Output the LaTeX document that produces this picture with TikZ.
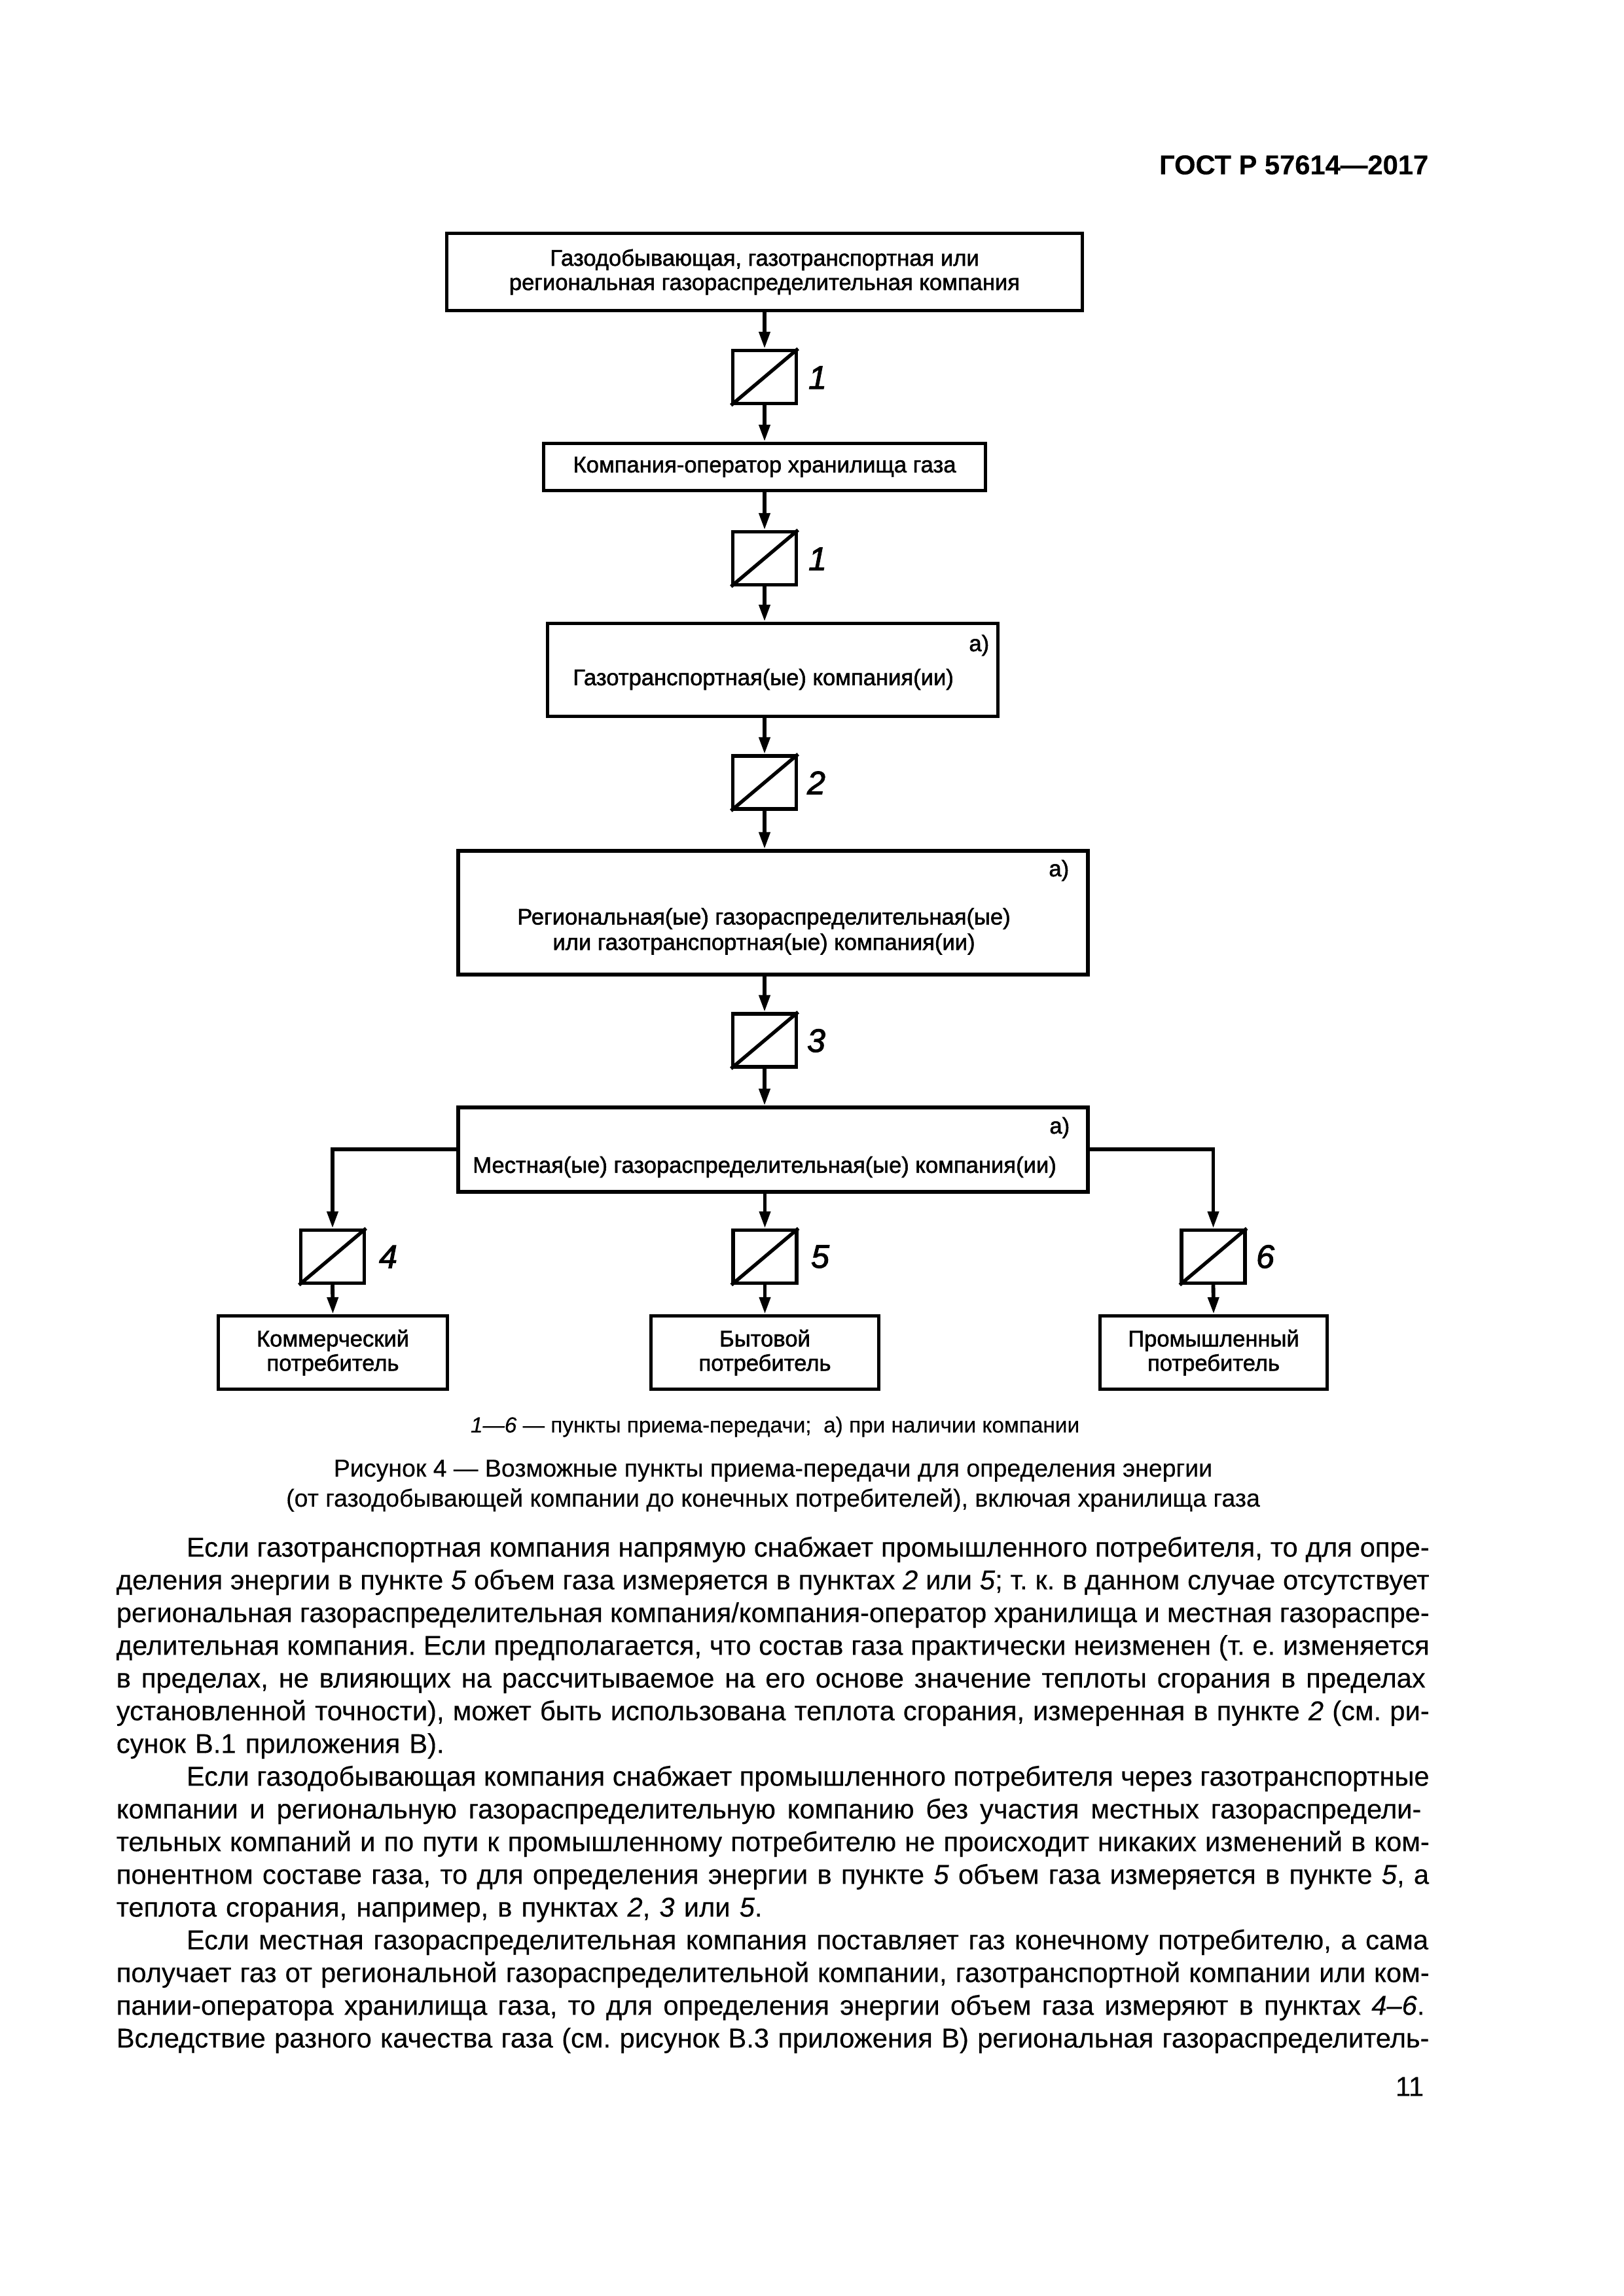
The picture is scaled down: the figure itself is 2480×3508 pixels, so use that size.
\documentclass[tikz,border=0pt]{standalone}
\usepackage{fontspec}
\setmainfont{Liberation Sans}[FakeBold=0.3,ItalicFeatures={FakeBold=0.3}]
\newfontfamily\diagfont{Liberation Sans}[FakeBold=1.6]
\newfontfamily\numfont{Liberation Sans}[ItalicFeatures={FakeBold=2.2}]
\usetikzlibrary{arrows.meta}
\newdimen\pxu \pxu=0.24pt
\newcommand\wordgap{\kern0pt\hskip .34em plus .6em minus .2em\kern0pt}
\begingroup\catcode`\ =\active\gdef\activatespaces{\catcode`\ =\active\let =\wordgap}\endgroup
\tikzset{
  x=0.24pt,y=-0.24pt,
  boxn/.style={draw=black,line width=1.3pt,rectangle,inner sep=0pt,align=center,font=\diagfont\fontsize{8.3}{8.9}\selectfont},
  meter/.style={draw=black,line width=1.3pt,rectangle,inner sep=0pt,minimum width=97*\pxu,minimum height=81*\pxu},
  conn/.style={line width=1.4pt,-{Triangle[length=6.2pt,width=3.9pt]}},
  diag/.style={line width=1.3pt},
  lbl/.style={inner sep=0pt,font=\diagfont\fontsize{8.3}{9.3}\selectfont,align=center},
  num/.style={inner sep=0pt,font=\numfont\itshape\fontsize{12}{12}\selectfont},
  note/.style={inner sep=0pt,align=center,font=\fontsize{8}{11}\selectfont},
  capt/.style={inner sep=0pt,align=center,font=\fontsize{9}{11}\selectfont},
}
\begin{document}
\begin{tikzpicture}
\useasboundingbox (0,0) rectangle (2480,3508);
\fill[white] (0,0) rectangle (2480,3508);
\node[inner sep=0pt,anchor=east,font=\bfseries\fontsize{10}{12}\selectfont] (head) at (2183,252) {ГОСТ Р 57614—2017};

\node[boxn,minimum width=971*\pxu,minimum height=118*\pxu] (b1) at (1168,415.5) {Газодобывающая, газотранспортная или\\региональная газораспределительная компания};
\node[meter] (m1) at (1168,576) {};
\node[num] (n1) at (1249,577) {1};
\node[boxn,minimum width=675*\pxu,minimum height=72*\pxu] (b2) at (1168,713.5) {Компания-оператор хранилища газа};
\node[meter] (m2) at (1168,853) {};
\node[num] (n2) at (1249,854) {1};
\node[boxn,minimum width=688*\pxu,minimum height=142*\pxu] (b3) at (1180.5,1023.5) {};
\node[lbl] (t3) at (1166,1038) {Газотранспортная(ые) компания(ии)};
\node[lbl,anchor=east] (a3) at (1512,986) {а)};
\node[meter] (m3) at (1168,1195.5) {};
\node[num] (n3) at (1247,1196) {2};
\node[boxn,minimum width=962*\pxu,minimum height=189*\pxu] (b4) at (1181,1394.5) {};
\node[lbl] (t4) at (1167,1423) {Региональная(ые) газораспределительная(ые)\\или газотранспортная(ые) компания(ии)};
\node[lbl,anchor=east] (a4) at (1634,1330) {а)};
\node[meter] (m4) at (1168,1589.5) {};
\node[num] (n4) at (1247,1590) {3};
\node[boxn,minimum width=962*\pxu,minimum height=129*\pxu] (b5) at (1181,1756.5) {};
\node[lbl] (t5) at (1168,1783) {Местная(ые) газораспределительная(ые) компания(ии)};
\node[lbl,anchor=east] (a5) at (1635,1723) {а)};
\coordinate (sl) at (698,1756);
\coordinate (sr) at (1664,1756);
\node[meter] (ml) at (508,1920) {};
\node[meter] (mc) at (1168.5,1920) {};
\node[meter] (mr) at (1853.5,1920) {};
\node[num] (nl) at (593,1920) {4};
\node[num] (nc) at (1253,1920) {5};
\node[num] (nr) at (1933,1920) {6};
\node[boxn,minimum width=350*\pxu,minimum height=112*\pxu] (cl) at (508.5,2066.5) {Коммерческий\\потребитель};
\node[boxn,minimum width=348*\pxu,minimum height=112*\pxu] (cc) at (1168.5,2066.5) {Бытовой\\потребитель};
\node[boxn,minimum width=347*\pxu,minimum height=112*\pxu] (cr) at (1854,2066.5) {Промышленный\\потребитель};

\foreach \m in {m1,m2,m3,m4,ml,mc,mr}{\draw[diag] (\m.south west) -- (\m.north east);}
\draw[conn] (b1.south) -- (m1.north);
\draw[conn] (m1.south) -- (b2.north);
\draw[conn] (b2.south) -- (m2.north);
\draw[conn] (m2.south) -- (m2.south |- b3.north);
\draw[conn] (m3.north |- b3.south) -- (m3.north);
\draw[conn] (m3.south) -- (m3.south |- b4.north);
\draw[conn] (m4.north |- b4.south) -- (m4.north);
\draw[conn] (m4.south) -- (m4.south |- b5.north);
\draw[conn] (sl) -| (ml.north);
\draw[conn] (mc.north |- b5.south) -- (mc.north);
\draw[conn] (sr) -| (mr.north);
\draw[conn] (ml.south) -- (cl.north);
\draw[conn] (mc.south) -- (cc.north);
\draw[conn] (mr.south) -- (cr.north);

\node[note] (fn) at (1184,2180) {\textit{1—6} — пункты приема-передачи;\ \ а) при наличии компании};
\node[capt] (cap) at (1181,2270) {Рисунок 4 — Возможные пункты приема-передачи для определения энергии\\(от газодобывающей компании до конечных потребителей), включая хранилища газа};

\node[inner sep=0pt,anchor=north west,text width=481.4pt,font=\fontsize{10}{12}\selectfont] (body) at (177,2347) {%
\parindent=25.7pt \hyphenpenalty=10000 \tolerance=10000 \hbadness=10000 \hfuzz=30pt \frenchspacing
\activatespaces%
\hspace*{25.7pt}Если газотранспортная компания напрямую снабжает промышленного потребителя, то для опре-\linebreak{}деления энергии в пункте \textit{5} объем газа измеряется в пунктах \textit{2} или \textit{5}; т. к. в данном случае отсутствует\linebreak{}региональная газораспределительная компания/компания-оператор хранилища и местная газораспре-\linebreak{}делительная компания. Если предполагается, что состав газа практически неизменен (т. е. изменяется\linebreak{}в пределах, не влияющих на рассчитываемое на его основе значение теплоты сгорания в пределах\linebreak{}установленной точности), может быть использована теплота сгорания, измеренная в пункте \textit{2} (см. ри-\linebreak{}сунок В.1 приложения В).\par
Если газодобывающая компания снабжает промышленного потребителя через газотранспортные\linebreak{}компании и региональную газораспределительную компанию без участия местных газораспредели-\linebreak{}тельных компаний и по пути к промышленному потребителю не происходит никаких изменений в ком-\linebreak{}понентном составе газа, то для определения энергии в пункте \textit{5} объем газа измеряется в пункте \textit{5}, а\linebreak{}теплота сгорания, например, в пунктах \textit{2}, \textit{3} или \textit{5}.\par
Если местная газораспределительная компания поставляет газ конечному потребителю, а сама\linebreak{}получает газ от региональной газораспределительной компании, газотранспортной компании или ком-\linebreak{}пании-оператора хранилища газа, то для определения энергии объем газа измеряют в пунктах \textit{4–6}.\linebreak{}Вследствие разного качества газа (см. рисунок В.3 приложения В) региональная газораспределитель-\par};
\node[inner sep=0pt,anchor=east,font=\fontsize{10}{12}\selectfont] (pg) at (2176,3188) {11};
\end{tikzpicture}
\end{document}
